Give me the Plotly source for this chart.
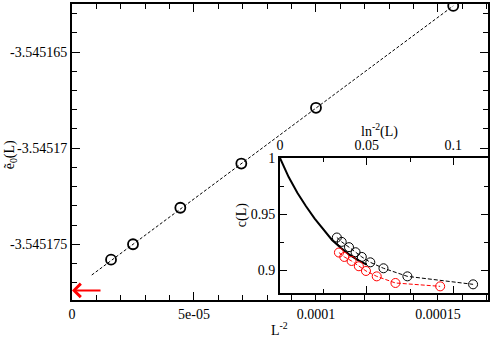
import plotly.graph_objects as go

# main panel: ground-state energy vs L^-2
main_x = [1.6e-5, 2.5e-5, 4.44e-5, 6.94e-5, 1.0e-4, 1.5625e-4]
main_y = [-3.5451758, -3.5451750, -3.5451731, -3.5451708, -3.5451679, -3.5451626]
fit_x = [8.1e-6, 1.5625e-4]
fit_y = [-3.5451766, -3.5451626]
arrow_x = [1.23e-5, 0.0]
arrow_y = -3.5451774

main_xticks = [0, 5e-5, 1e-4, 1.5e-4]
main_xtext = ["0", "5e-05", "0.0001", "0.00015"]
main_yticks = [-3.545175, -3.54517, -3.545165]
main_ytext = ["-3.545175", "-3.54517", "-3.545165"]

# inset: c(L) vs ln^-2(L)
curve_x = [0, 0.005, 0.01, 0.0125, 0.015, 0.02, 0.025, 0.03, 0.035, 0.04, 0.045, 0.05]
curve_y = [1.0, 0.983, 0.969, 0.9625, 0.957, 0.946, 0.936, 0.927, 0.920, 0.914, 0.909, 0.905]
black_x = [0.0328, 0.0356, 0.0398, 0.0436, 0.0472, 0.0521, 0.0597, 0.0735, 0.1114]
black_y = [0.9292, 0.9253, 0.9206, 0.9161, 0.9119, 0.9071, 0.9018, 0.8946, 0.8875]
red_x = [0.0340, 0.0371, 0.0413, 0.0455, 0.0496, 0.0558, 0.0666, 0.0924]
red_y = [0.9158, 0.9119, 0.9083, 0.9036, 0.8994, 0.8946, 0.8887, 0.8857]

inset_xticks = [0, 0.05, 0.1]
inset_xtext = ["0", "0.05", "0.1"]
inset_yticks = [0.9, 0.95, 1.0]
inset_ytext = ["0.9", "0.95", "1"]

font = "Liberation Serif"

fig = go.Figure()
fig.add_trace(go.Scatter(x=fit_x, y=fit_y, mode="lines",
                         line=dict(color="black", width=1, dash="3px,2px")))
fig.add_trace(go.Scatter(x=main_x, y=main_y, mode="markers",
                         marker=dict(symbol="circle-open", size=10, color="black",
                                     line=dict(width=1.8))))

fig.add_trace(go.Scatter(x=curve_x, y=curve_y, mode="lines", xaxis="x2", yaxis="y2",
                         line=dict(color="black", width=2)))
fig.add_trace(go.Scatter(x=black_x, y=black_y, mode="lines+markers", xaxis="x2", yaxis="y2",
                         line=dict(color="black", width=1, dash="4px,2px"),
                         marker=dict(symbol="circle-open", size=9, color="black",
                                     line=dict(width=1))))
fig.add_trace(go.Scatter(x=red_x, y=red_y, mode="lines+markers", xaxis="x2", yaxis="y2",
                         line=dict(color="red", width=1, dash="4px,2px"),
                         marker=dict(symbol="circle-open", size=9, color="red",
                                     line=dict(width=1))))

axis_common = dict(showgrid=False, zeroline=False, showline=True, linecolor="black",
                   mirror="ticks", ticks="inside", tickcolor="black", automargin=False,
                   tickfont=dict(family=font, size=14, color="black"))

fig.update_layout(
    width=491, height=337,
    margin=dict(l=72, r=3, t=4, b=37),
    paper_bgcolor="white", plot_bgcolor="white",
    showlegend=False,
    font=dict(family=font, size=14, color="black"),
    xaxis=dict(axis_common, range=[0, 1.705e-4], domain=[0, 1], anchor="y",
               tickvals=main_xticks, ticktext=main_xtext, ticklen=8, linewidth=2,
               minor=dict(dtick=1e-5, tick0=0, ticklen=5, ticks="inside", tickcolor="black")),
    yaxis=dict(axis_common, range=[-3.5451779, -3.5451625], domain=[0, 1], anchor="x",
               tickvals=main_yticks, ticktext=main_ytext, ticklen=8, linewidth=2,
               minor=dict(dtick=1e-6, tick0=-3.545175, ticklen=5, ticks="inside",
                          tickcolor="black")),
    xaxis2=dict(axis_common, range=[0, 0.12], domain=[0.5, 1.0], anchor="y2", side="top",
                tickvals=inset_xticks, ticktext=inset_xtext, ticklen=7, linewidth=2,
                minor=dict(dtick=0.025, tick0=0, ticklen=4, ticks="inside", tickcolor="black")),
    yaxis2=dict(axis_common, range=[0.8795, 1.0], domain=[0.0226, 0.4797], anchor="x2",
                tickvals=inset_yticks, ticktext=inset_ytext, ticklen=7, linewidth=2,
                minor=dict(dtick=0.025, tick0=0.9, ticklen=4, ticks="inside",
                           tickcolor="black")),
)

fig.add_annotation(x=arrow_x[1], y=arrow_y, ax=arrow_x[0], ay=arrow_y,
                   xref="x", yref="y", axref="x", ayref="y",
                   text="", showarrow=True, arrowhead=4, arrowsize=1.3,
                   arrowwidth=2, arrowcolor="red", standoff=0)

titles = [
    dict(x=0.4976, y=-0.098, text="L<sup>-2</sup>", textangle=0, anchor="center"),
    dict(x=-0.171, y=0.49, text="ẽ<sub>0</sub>(L)", textangle=-90, anchor="left"),
    dict(x=0.409, y=0.287, text="c(L)", textangle=-90, anchor="center"),
    dict(x=0.74, y=0.571, text="ln<sup>-2</sup>(L)", textangle=0, anchor="center"),
]
for t in titles:
    fig.add_annotation(x=t["x"], y=t["y"], xref="paper", yref="paper", text=t["text"],
                       textangle=t["textangle"], showarrow=False,
                       font=dict(family=font, size=14, color="black"),
                       xanchor=t["anchor"], yanchor="middle")

fig.write_html("out.html", config={"displayModeBar": False},
               post_script="document.body.style.margin='0';")
